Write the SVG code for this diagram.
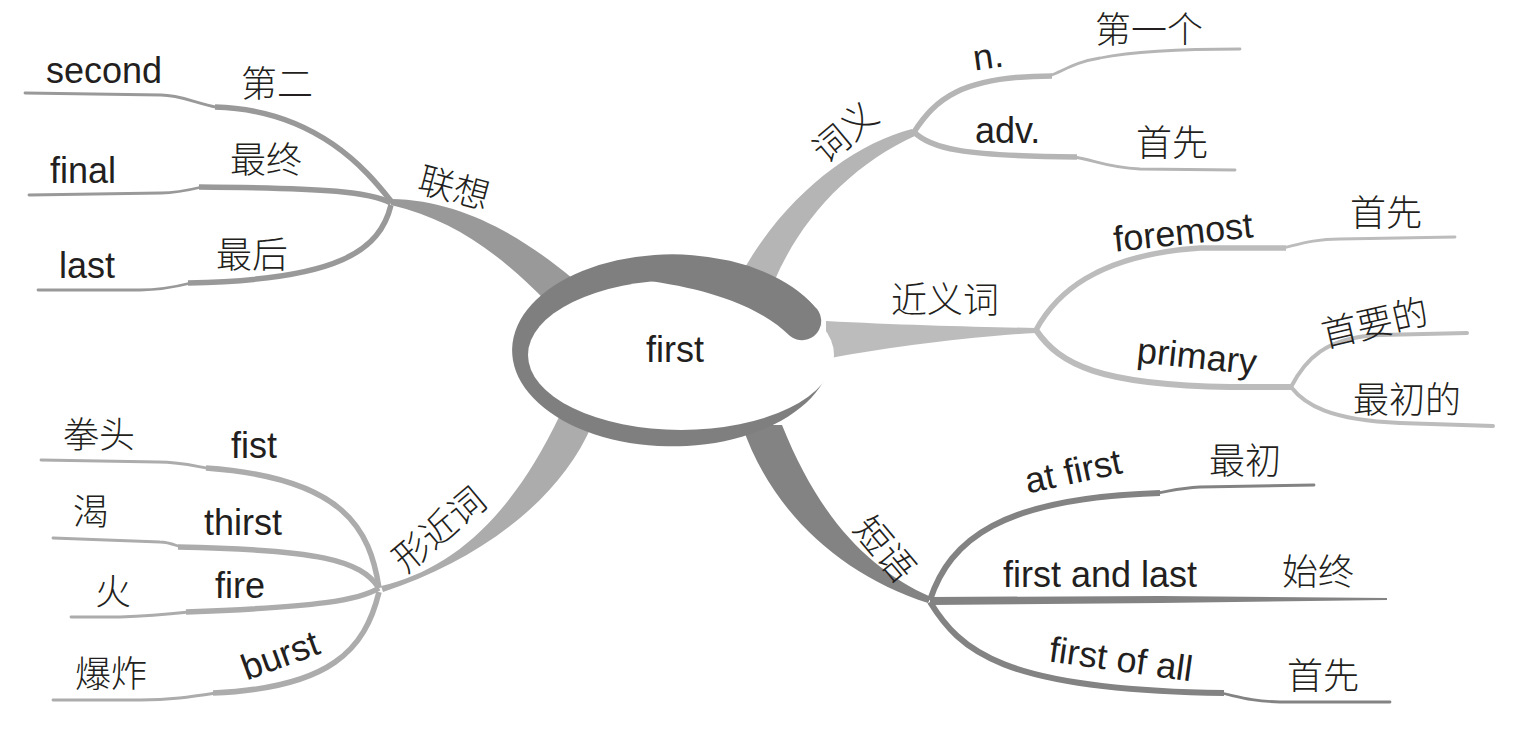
<svg xmlns="http://www.w3.org/2000/svg" width="1522" height="752" viewBox="0 0 1522 752">
<style>
.en{font-family:"Liberation Sans",Arial,sans-serif;font-size:36px;fill:#231f20}
.cn{font-family:"Noto Sans CJK SC","Noto Sans CJK TC",sans-serif;font-size:36px;font-weight:300;fill:#231f20}
.c{text-anchor:middle;dominant-baseline:central}
.ln{fill:none;stroke-linejoin:round}
.w1{stroke-width:5.5;stroke-linecap:butt}
.w2{stroke-width:2.8;stroke-linecap:round}
.g1{stroke:#999999}
.g2{stroke:#b5b5b5}
.g3{stroke:#bcbcbc}
.g4{stroke:#acacac}
.g5{stroke:#838383}
</style>
<rect width="1522" height="752" fill="#ffffff"/>
<g id="connectors">
  <!-- main bands -->
  <path d="M391 199 C460 200 520 235 572 278 L545 300 C500 255 455 220 391 205 Z" fill="#999999"/>
  <path d="M912 129 C850 145 780 200 738 280 L774 282 C800 220 850 165 917 135 Z" fill="#b5b5b5"/>
  <path d="M826 321 C900 325 980 327 1036 328 L1036 333 C980 336 900 345 826 359 Z" fill="#bcbcbc"/>
  <path d="M381 586 C450 570 510 520 560 415 L592 425 C560 500 480 560 383 592 Z" fill="#acacac"/>
  <path d="M742 425 C770 510 840 575 928 603 L931 597 C870 570 820 520 782 425 Z" fill="#838383"/>
  <!-- 联想 -->
  <path class="ln g1 w1" d="M391 201 C370 175 320 110 215 107"/>
  <path class="ln g1 w2" d="M218 107.5 C195 103 180 95 161 95 L25 93"/>
  <path class="ln g1 w1" d="M391 203 C370 192 330 188 199 187"/>
  <path class="ln g1 w2" d="M202 187 C185 191 175 193 161 193 L29 195"/>
  <path class="ln g1 w1" d="M391 205 C380 250 340 280 188 283"/>
  <path class="ln g1 w2" d="M191 283 C175 287 160 290 140 290 L38 290"/>
  <!-- 词义 -->
  <path class="ln g2 w1" d="M914 132 C935 100 960 76 1052 76"/>
  <path class="ln g2 w2" d="M1049 76 C1065 70 1075 62 1100 58 C1130 52 1170 49 1240 49"/>
  <path class="ln g2 w1" d="M914 132 C930 148 960 156 1077 157"/>
  <path class="ln g2 w2" d="M1074 157 C1095 160 1105 167 1140 169 L1235 170"/>
  <!-- 近义词 -->
  <path class="ln g3 w1" d="M1036 330 C1055 295 1095 255 1200 248 L1286 248"/>
  <path class="ln g3 w2" d="M1283 248 C1300 244 1315 239 1340 239 L1455 237"/>
  <path class="ln g3" stroke-width="6" d="M1036 330 C1060 365 1100 385 1230 387 L1291 387"/>
  <path class="ln g3" stroke-width="4" stroke-linecap="round" d="M1291 387 C1305 360 1325 337 1380 335 L1467 333"/>
  <path class="ln g3" stroke-width="4" stroke-linecap="round" d="M1291 387 C1305 405 1330 420 1400 423 L1493 426"/>
  <!-- 形近词 -->
  <path class="ln g4 w1" d="M379 588 C370 530 345 478 206 468"/>
  <path class="ln g4 w2" d="M209 468.5 C190 465 180 462 158 462 L41 460"/>
  <path class="ln g4 w1" d="M379 588 C360 560 320 550 178 547"/>
  <path class="ln g4 w2" d="M181 547 C172 544 168 542 160 542 L53 538"/>
  <path class="ln g4 w1" d="M379 588 C360 600 320 607 186 612"/>
  <path class="ln g4 w2" d="M189 612 C170 614 150 616 120 617 L71 617"/>
  <path class="ln g4 w1" d="M379 592 C365 650 330 688 213 693"/>
  <path class="ln g4 w2" d="M216 693 C190 697 170 700 140 700 L53 700"/>
  <!-- 短语 -->
  <path class="ln g5" stroke-width="6" d="M930 600 C950 540 1000 498 1160 493"/>
  <path class="ln g5 w2" d="M1157 493 C1170 491 1180 488 1200 487 L1314 485"/>
  <path d="M930 597 L1160 596 L1387 598 L1387 600 L1160 603 L930 605 Z" fill="#838383"/>
  <path class="ln g5" stroke-width="6" d="M930 602 C960 650 1000 690 1224 693"/>
  <path class="ln g5 w2" d="M1221 693 C1240 697 1250 701 1280 702 L1390 702"/>
</g>
<g id="center">
  <path d="M814 306 A160 96 0 1 0 832 354 Z" fill="#7f7f7f"/>
  <ellipse cx="681" cy="355" rx="153" ry="75" fill="#ffffff"/>
  <path d="M660 258.5 C730 258 790 278 814 306 A19 19 0 0 1 790 336 C765 312 725 292 650 281 Z" fill="#7f7f7f"/>
  <text class="en" x="675" y="362" text-anchor="middle">first</text>
</g>
<g id="lianxiang">
  <text class="cn c" transform="translate(455 185) rotate(15)">联想</text>
  <text class="en" x="46" y="83">second</text>
  <text class="cn" x="241" y="97">第二</text>
  <text class="en" x="50" y="183">final</text>
  <text class="cn" x="230" y="173">最终</text>
  <text class="en" x="59" y="278">last</text>
  <text class="cn" x="216" y="268">最后</text>
</g>
<g id="ciyi">
  <text class="cn c" transform="translate(843 130) rotate(-40)">词义</text>
  <text class="en c" transform="translate(988 56) rotate(-8)">n.</text>
  <text class="cn" x="1095" y="43">第一个</text>
  <text class="en" x="975" y="143">adv.</text>
  <text class="cn" x="1136" y="156">首先</text>
</g>
<g id="jinyici">
  <text class="cn" x="891" y="313">近义词</text>
  <text class="en c" transform="translate(1183 232) rotate(-6)">foremost</text>
  <text class="cn" x="1350" y="226">首先</text>
  <text class="en c" transform="translate(1197 356) rotate(6)">primary</text>
  <text class="cn c" transform="translate(1374 320) rotate(-13)">首要的</text>
  <text class="cn" x="1353" y="413">最初的</text>
</g>
<g id="xingjinci">
  <text class="cn c" transform="translate(437 527) rotate(-40)">形近词</text>
  <text class="cn" x="63" y="448">拳头</text>
  <text class="en" x="231" y="458">fist</text>
  <text class="cn" x="73" y="525">渴</text>
  <text class="en" x="204" y="535">thirst</text>
  <text class="cn" x="95" y="605">火</text>
  <text class="en" x="215" y="598">fire</text>
  <text class="cn" x="75" y="687">爆炸</text>
  <text class="en c" transform="translate(280 655) rotate(-20)">burst</text>
</g>
<g id="duanyu">
  <text class="cn c" transform="translate(887 547) rotate(50)">短语</text>
  <text class="en c" transform="translate(1073 471) rotate(-12)">at first</text>
  <text class="cn" x="1209" y="474">最初</text>
  <text class="en" x="1003" y="587">first and last</text>
  <text class="cn" x="1282" y="585">始终</text>
  <text class="en c" transform="translate(1121 659) rotate(8)">first of all</text>
  <text class="cn" x="1287" y="689">首先</text>
</g>
</svg>
